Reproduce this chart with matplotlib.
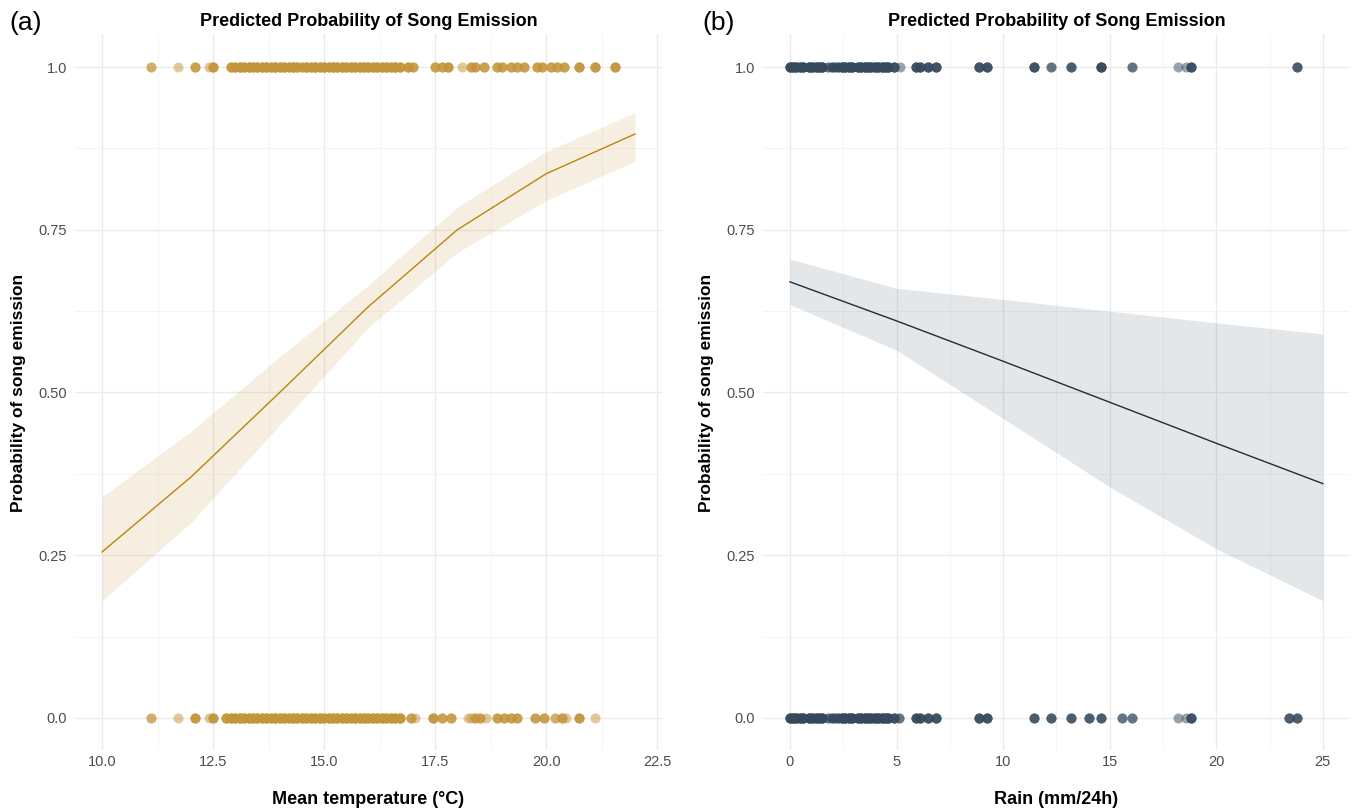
import numpy as np
import matplotlib
matplotlib.use("Agg")
import matplotlib.pyplot as plt

plt.rcParams['font.family'] = ['Liberation Sans', 'DejaVu Sans']

# ---- (a) temperature model ----
temp_grid = [10, 12, 14, 16, 18, 20, 22]
temp_fit = [0.255, 0.37, 0.50, 0.632, 0.75, 0.836, 0.897]
temp_lo = [0.18, 0.30, 0.45, 0.60, 0.715, 0.795, 0.855]
temp_hi = [0.34, 0.44, 0.555, 0.665, 0.785, 0.87, 0.93]

# observations with song (y = 1) and number of records at each value
temp_song = [11.1, 11.7, 12.1, 12.4, 12.5,
             12.9, 13.0, 13.1, 13.2, 13.3, 13.4, 13.5, 13.6, 13.7, 13.8,
             13.9, 14.0, 14.1, 14.2, 14.3, 14.4, 14.5, 14.6, 14.7, 14.8, 14.9,
             15.0, 15.1, 15.2, 15.3, 15.4, 15.5, 15.6, 15.7, 15.8, 15.9,
             16.0, 16.1, 16.2, 16.3, 16.4, 16.5, 16.6, 16.7,
             16.9, 17.0, 17.5, 17.65, 17.8, 18.1, 18.3, 18.4, 18.6,
             18.9, 19.0, 19.2, 19.35, 19.5, 19.8, 19.9, 20.1, 20.25, 20.4,
             20.75, 21.1, 21.55]
temp_song_n = [2, 1, 3, 1, 4,
               4, 4, 5, 4, 5, 4, 5, 4, 5, 4,
               5, 4, 5, 4, 5, 4, 3, 5, 4, 5, 4,
               5, 4, 5, 4, 5, 4, 5, 4, 5, 4,
               5, 4, 5, 4, 5, 4, 5, 4,
               4, 3, 3, 3, 4, 1, 3, 3, 3,
               3, 3, 3, 3, 3, 3, 3, 3, 3, 3,
               4, 4, 4]

# observations without song (y = 0)
temp_silent = [11.1, 11.7, 12.1, 12.4, 12.5,
               12.8, 12.9, 13.0, 13.1, 13.2, 13.3, 13.4, 13.5, 13.6, 13.7,
               13.8, 13.9, 14.0, 14.1, 14.2, 14.3, 14.4, 14.5, 14.6, 14.7,
               14.8, 14.9, 15.0, 15.1, 15.2, 15.3, 15.4, 15.5, 15.6, 15.7,
               15.8, 15.9, 16.0, 16.1, 16.2, 16.3, 16.4, 16.5, 16.6, 16.7,
               16.95, 17.05, 17.45, 17.65, 17.85, 18.25, 18.3, 18.4, 18.5,
               18.65, 18.9, 19.05, 19.2, 19.35, 19.75, 19.95, 20.2, 20.35,
               20.45, 20.75, 21.1]
temp_silent_n = [2, 1, 4, 1, 4,
                 4, 5, 4, 5, 4, 5, 4, 5, 4, 5,
                 4, 5, 4, 5, 4, 5, 4, 5, 4, 5,
                 4, 5, 4, 5, 4, 5, 4, 5, 4, 5,
                 4, 5, 4, 5, 4, 5, 4, 5, 4, 5,
                 3, 1, 4, 3, 3, 1, 1, 3, 3,
                 1, 3, 3, 3, 3, 3, 3, 2, 3,
                 1, 4, 1]

# ---- (b) rain model ----
rain_grid = [0, 5, 10, 15, 20, 25]
rain_fit = [0.67, 0.61, 0.548, 0.485, 0.422, 0.36]
rain_lo = [0.635, 0.565, 0.46, 0.355, 0.26, 0.18]
rain_hi = [0.705, 0.66, 0.643, 0.625, 0.607, 0.59]

rain_song = [0.0, 0.15, 0.3, 0.45, 0.6, 0.9, 1.05, 1.2, 1.35, 1.5,
             1.8, 1.95, 2.1, 2.25, 2.45, 2.6, 2.75, 2.9, 3.2, 3.35, 3.5,
             3.65, 3.8, 4.0, 4.15, 4.3, 4.45, 4.6, 4.9, 5.15,
             5.9, 6.1, 6.5, 6.85, 8.85, 9.25, 11.45, 12.25, 13.2, 14.6,
             16.05, 18.2, 18.6, 18.8, 23.8]
rain_song_n = [5, 5, 5, 5, 5, 5, 5, 5, 5, 5,
               2, 3, 2, 3, 5, 5, 5, 5, 5, 5, 5,
               5, 5, 5, 5, 5, 5, 5, 4, 1,
               4, 4, 4, 4, 4, 4, 4, 2, 3, 5,
               2, 1, 1, 4, 3]

rain_silent = [0.0, 0.15, 0.3, 0.45, 0.6, 0.9, 1.05, 1.2, 1.35, 1.5,
               1.8, 1.95, 2.1, 2.25, 2.45, 2.6, 2.75, 2.9, 3.2, 3.35, 3.5,
               3.65, 3.8, 4.0, 4.15, 4.3, 4.45, 4.6, 4.9, 5.1,
               5.9, 6.1, 6.5, 6.85, 8.85, 9.25, 11.45, 12.25, 13.2, 14.05,
               14.6, 15.6, 16.05, 18.2, 18.6, 18.8, 23.4, 23.8]
rain_silent_n = [5, 5, 5, 5, 5, 5, 5, 5, 5, 5,
                 2, 3, 2, 3, 5, 5, 5, 5, 5, 5, 5,
                 5, 5, 5, 5, 5, 5, 5, 4, 2,
                 4, 4, 4, 4, 4, 4, 3, 3, 3, 3,
                 3, 2, 2, 1, 1, 4, 3, 3]

TITLE = "Predicted Probability of Song Emission"


def style_axes(ax, xlim, xmajor, xminor, xlabels, xlabel):
    ax.set_xlim(*xlim)
    ax.set_ylim(-0.05, 1.05)
    for s in ax.spines.values():
        s.set_visible(False)
    ax.set_xticks(xmajor)
    ax.set_xticklabels(xlabels)
    ax.set_xticks(xminor, minor=True)
    ax.set_yticks([0, 0.25, 0.5, 0.75, 1.0])
    ax.set_yticklabels(["0.0", "0.25", "0.50", "0.75", "1.0"])
    ax.set_yticks([0.125, 0.375, 0.625, 0.875], minor=True)
    ax.tick_params(which='both', length=0)
    ax.tick_params(axis='both', labelsize=10.5, labelcolor='#4D4D4D')
    ax.tick_params(axis='x', pad=3)
    ax.tick_params(axis='y', pad=6)
    ax.grid(which='major', color='#EBEBEB', linewidth=1.0)
    ax.grid(which='minor', color='#F4F4F4', linewidth=0.7)
    ax.set_axisbelow(True)
    ax.set_xlabel(xlabel, fontsize=13, fontweight='bold', labelpad=16)
    ax.set_ylabel("Probability of song emission", fontsize=12.5,
                  fontweight='bold', labelpad=9)
    ax.set_title(TITLE, fontsize=13, fontweight='bold', pad=6)


def draw_points(ax, xs, ns, yval, color):
    x = np.repeat(xs, ns)
    ax.scatter(x, np.full(len(x), yval), s=52, color=color, alpha=0.5,
               linewidths=0, zorder=3)


fig = plt.figure(figsize=(13.56, 8.11), dpi=100)
ax1 = fig.add_axes([0.0556, 0.0746, 0.4323, 0.8829])
ax2 = fig.add_axes([0.5629, 0.0746, 0.4323, 0.8829])

# panel a
ax1.fill_between(temp_grid, temp_lo, temp_hi, color='#C8963C', alpha=0.15,
                 linewidth=0, zorder=1)
ax1.plot(temp_grid, temp_fit, color='#B8860B', linewidth=1.0, zorder=2)
draw_points(ax1, temp_song, temp_song_n, 1.0, '#C4943A')
draw_points(ax1, temp_silent, temp_silent_n, 0.0, '#C4943A')
style_axes(ax1, (9.4, 22.6), [10, 12.5, 15, 17.5, 20, 22.5],
           [11.25, 13.75, 16.25, 18.75, 21.25],
           ["10.0", "12.5", "15.0", "17.5", "20.0", "22.5"],
           "Mean temperature (°C)")

# panel b
ax2.fill_between(rain_grid, rain_lo, rain_hi, color='#2F4858', alpha=0.13,
                 linewidth=0, zorder=1)
ax2.plot(rain_grid, rain_fit, color='#1E2D3B', linewidth=1.0, zorder=2)
draw_points(ax2, rain_song, rain_song_n, 1.0, '#34495B')
draw_points(ax2, rain_silent, rain_silent_n, 0.0, '#34495B')
style_axes(ax2, (-1.25, 26.25), [0, 5, 10, 15, 20, 25],
           [2.5, 7.5, 12.5, 17.5, 22.5],
           ["0", "5", "10", "15", "20", "25"],
           "Rain (mm/24h)")

fig.text(0.007, 0.972, "(a)", fontsize=19, va='center', ha='left')
fig.text(0.518, 0.972, "(b)", fontsize=19, va='center', ha='left')

fig.savefig("out.png", dpi=100)
